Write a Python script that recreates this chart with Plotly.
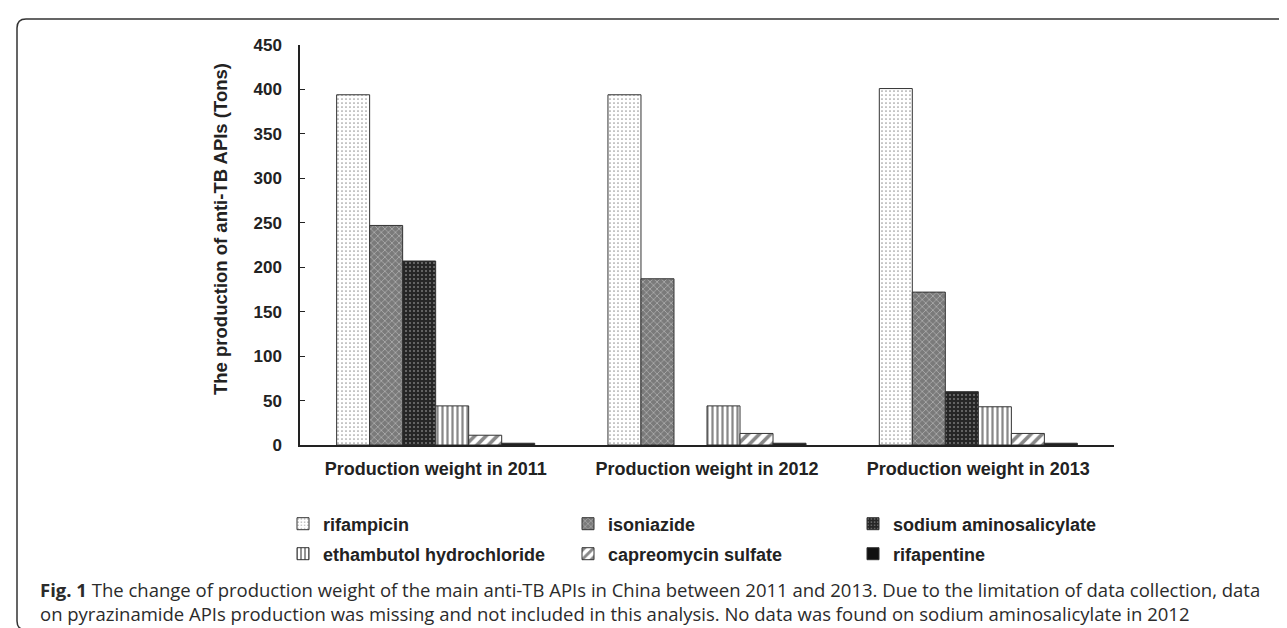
import plotly.graph_objects as go

categories = ["Production weight in 2011", "Production weight in 2012", "Production weight in 2013"]
rifampicin = [394, 394, 401]
isoniazide = [247, 187, 172]
sodium_aminosalicylate = [207, None, 60]
ethambutol_hydrochloride = [44, 44, 43]
capreomycin_sulfate = [11, 13, 13]
rifapentine = [2, 2, 2]
y_ticks = [0, 50, 100, 150, 200, 250, 300, 350, 400, 450]

W, H = 1287, 628
L, R, T, B = 292, 1106, 37, 437


def px(x):
    return (x - L) / (R - L)


def py(y):
    return (B - y) / (B - T)


series = [
    ("rifampicin", rifampicin, "legend",
     dict(color="white", pattern=dict(shape=".", fgcolor="#333", bgcolor="white", size=4, solidity=0.15, fillmode="overlay"))),
    ("isoniazide", isoniazide, "legend",
     dict(color="#7a7a7a", pattern=dict(shape="x", fgcolor="#e0e0e0", bgcolor="#7a7a7a", size=5, solidity=0.3, fillmode="overlay"))),
    ("sodium aminosalicylate", sodium_aminosalicylate, "legend",
     dict(color="#262626", pattern=dict(shape=".", fgcolor="#c8c8c8", bgcolor="#262626", size=4, solidity=0.2, fillmode="overlay"))),
    ("ethambutol hydrochloride", ethambutol_hydrochloride, "legend2",
     dict(color="white", pattern=dict(shape="|", fgcolor="#111", bgcolor="white", size=5, solidity=0.45, fillmode="overlay"))),
    ("capreomycin sulfate", capreomycin_sulfate, "legend2",
     dict(color="white", pattern=dict(shape="/", fgcolor="#111", bgcolor="white", size=8, solidity=0.45, fillmode="overlay"))),
    ("rifapentine", rifapentine, "legend2", dict(color="#111", pattern=dict(shape=""))),
]

fig = go.Figure()
for name, vals, lg, marker in series:
    marker = dict(marker)
    marker["line"] = dict(color="#333", width=1)
    fig.add_trace(go.Bar(name=name, x=categories, y=vals, marker=marker, legend=lg))

# rounded border
x0, y0, x1, y1, r = 9, 11, 1280, 622, 9
path = (
    f"M {px(x0 + r)},{py(y0)} L {px(x1 - r)},{py(y0)} "
    f"Q {px(x1)},{py(y0)} {px(x1)},{py(y0 + r)} "
    f"L {px(x1)},{py(y1 - r)} Q {px(x1)},{py(y1)} {px(x1 - r)},{py(y1)} "
    f"L {px(x0 + r)},{py(y1)} Q {px(x0)},{py(y1)} {px(x0)},{py(y1 - r)} "
    f"L {px(x0)},{py(y0 + r)} Q {px(x0)},{py(y0)} {px(x0 + r)},{py(y0)} Z"
)
fig.add_shape(type="path", path=path, xref="paper", yref="paper",
              line=dict(color="#333", width=1.5), layer="below")

cap1 = ("<b>Fig. 1</b> The change of production weight of the main anti-TB APIs in China between 2011 and 2013. "
        "Due to the limitation of data collection, data")
cap2 = ("on pyrazinamide APIs production was missing and not included in this analysis. "
        "No data was found on sodium aminosalicylate in 2012")
for txt, yc in [(cap1, 581), (cap2, 605)]:
    fig.add_annotation(text=txt, xref="paper", yref="paper", x=px(30), y=py(yc),
                       xanchor="left", yanchor="middle", showarrow=False, align="left",
                       font=dict(family="Open Sans", size=18.5, color="#2b2b2b"))

fig.add_annotation(text="<b>The production of anti-TB APIs (Tons)</b>", xref="paper", yref="paper",
                   x=px(212), y=py(221), textangle=-90, showarrow=False,
                   xanchor="center", yanchor="middle",
                   font=dict(family="Liberation Sans, Arial", size=18.5, color="#222"))

legend_common = dict(orientation="h", xanchor="left", yanchor="middle",
                     entrywidth=240, entrywidthmode="pixels", traceorder="normal",
                     font=dict(size=18, family="Liberation Sans, Arial", weight="bold", color="#222"),
                     bgcolor="rgba(0,0,0,0)", itemwidth=30)

fig.update_layout(
    width=W, height=H,
    margin=dict(l=L, r=W - R, t=T, b=H - B, pad=0),
    paper_bgcolor="white", plot_bgcolor="white",
    barmode="group", bargap=0.27, bargroupgap=0,
    font=dict(family="Liberation Sans, Arial", color="#222"),
    showlegend=True,
    legend=dict(x=px(275), y=py(516), **legend_common),
    legend2=dict(x=px(275), y=py(546), **legend_common),
    xaxis=dict(showline=True, linecolor="#222", linewidth=1.5, ticks="", showgrid=False,
               tickfont=dict(size=18, weight="bold", color="#222"), ticklabelstandoff=7),
    yaxis=dict(range=[0, 450], tickvals=y_ticks, showline=True, linecolor="#222", linewidth=1.5,
               ticks="inside", ticklen=5, tickcolor="#222", showgrid=False, zeroline=False,
               tickfont=dict(size=17, weight="bold", color="#222"), ticklabelstandoff=13),
)

fig.write_html("out.html")
